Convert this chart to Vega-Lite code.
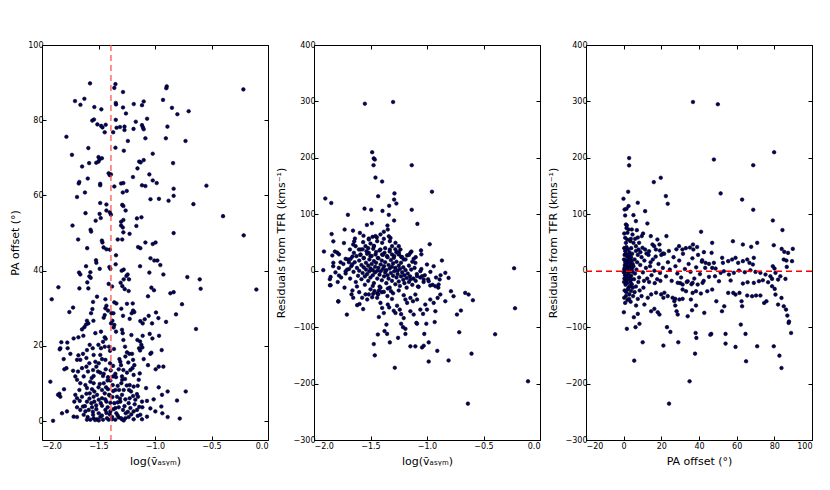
{
"$schema": "https://vega.github.io/schema/vega-lite/v6.json",
"padding": {"left": 9, "top": 40, "right": 5, "bottom": 5},
"bounds": "flush",
"spacing": 46,
"config": {
  "font": "DejaVu Sans",
  "view": {"stroke": "black", "strokeWidth": 1},
  "axis": {"domain": false, "grid": false, "tickColor": "black", "tickSize": -4, "labelFontSize": 8, "labelColor": "black", "labelPadding": 3, "titleFontSize": 11, "titleFontWeight": "normal", "titleColor": "black", "labelFont": "DejaVu Sans", "titleFont": "DejaVu Sans"},
  "axisX": {"labelPadding": 6, "titlePadding": 5},
  "axisY": {"titlePadding": 7}
},
"datasets": {
"p1": [
{"logv":-1.575,"pa":89.8},{"logv":-1.35,"pa":89.6},{"logv":-1.36,"pa":88.6},{"logv":-1.283,"pa":87.5},{"logv":-0.896,"pa":89.0},{"logv":-0.9,"pa":88.5},{"logv":-0.218,"pa":88.2},{"logv":-1.708,"pa":85.1},{"logv":-1.625,"pa":85.7},{"logv":-1.66,"pa":84.1},{"logv":-1.347,"pa":84.6},{"logv":-1.345,"pa":84.2},{"logv":-1.188,"pa":84.3},{"logv":-1.1,"pa":85.0},{"logv":-1.115,"pa":84.0},{"logv":-0.929,"pa":85.4},{"logv":-0.85,"pa":83.3},{"logv":-0.702,"pa":82.4},{"logv":-0.802,"pa":81.6},{"logv":-1.537,"pa":83.5},{"logv":-1.475,"pa":82.9},{"logv":-1.283,"pa":83.4},{"logv":-1.257,"pa":81.8},{"logv":-1.54,"pa":80.2},{"logv":-1.555,"pa":79.9},{"logv":-1.51,"pa":78.9},{"logv":-1.477,"pa":78.5},{"logv":-1.465,"pa":78.1},{"logv":-1.436,"pa":78.8},{"logv":-1.347,"pa":80.1},{"logv":-1.445,"pa":76.8},{"logv":-1.37,"pa":76.8},{"logv":-1.34,"pa":78.0},{"logv":-1.31,"pa":78.2},{"logv":-1.27,"pa":78.3},{"logv":-1.27,"pa":77.4},{"logv":-1.19,"pa":77.7},{"logv":-1.17,"pa":79.6},{"logv":-1.115,"pa":78.7},{"logv":-1.107,"pa":78.1},{"logv":-1.1,"pa":77.6},{"logv":-1.07,"pa":80.4},{"logv":-0.89,"pa":78.3},{"logv":-1.784,"pa":75.6},{"logv":-1.24,"pa":74.5},{"logv":-1.085,"pa":75.2},{"logv":-0.904,"pa":75.2},{"logv":-0.73,"pa":74.5},{"logv":-1.59,"pa":72.6},{"logv":-1.735,"pa":70.8},{"logv":-1.5,"pa":70.2},{"logv":-1.49,"pa":69.6},{"logv":-1.276,"pa":71.9},{"logv":-1.35,"pa":72.7},{"logv":-1.645,"pa":67.7},{"logv":-1.583,"pa":68.6},{"logv":-1.52,"pa":68.7},{"logv":-1.5,"pa":69.0},{"logv":-1.47,"pa":69.9},{"logv":-1.14,"pa":69.0},{"logv":-1.127,"pa":68.8},{"logv":-1.1,"pa":69.4},{"logv":-1.02,"pa":71.1},{"logv":-1.155,"pa":67.2},{"logv":-0.84,"pa":68.6},{"logv":-1.41,"pa":65.9},{"logv":-1.39,"pa":65.6},{"logv":-1.4,"pa":65.4},{"logv":-1.195,"pa":64.9},{"logv":-1.05,"pa":65.6},{"logv":-1.675,"pa":63.2},{"logv":-1.67,"pa":63.6},{"logv":-1.595,"pa":64.5},{"logv":-1.485,"pa":63.1},{"logv":-1.485,"pa":62.7},{"logv":-1.36,"pa":62.4},{"logv":-1.3,"pa":63.2},{"logv":-1.28,"pa":63.3},{"logv":-1.115,"pa":62.7},{"logv":-1.085,"pa":62.5},{"logv":-1.02,"pa":64.0},{"logv":-0.985,"pa":63.3},{"logv":-0.835,"pa":61.8},{"logv":-0.545,"pa":62.6},{"logv":-1.62,"pa":60.8},{"logv":-1.69,"pa":59.6},{"logv":-1.285,"pa":60.8},{"logv":-1.25,"pa":61.2},{"logv":-1.04,"pa":59.0},{"logv":-0.965,"pa":59.1},{"logv":-0.88,"pa":58.6},{"logv":-0.835,"pa":59.9},{"logv":-0.66,"pa":57.7},{"logv":-1.485,"pa":58.0},{"logv":-1.43,"pa":57.6},{"logv":-1.29,"pa":57.5},{"logv":-1.28,"pa":57.2},{"logv":-1.43,"pa":56.0},{"logv":-1.4,"pa":55.5},{"logv":-1.26,"pa":56.0},{"logv":-1.615,"pa":55.3},{"logv":-1.49,"pa":55.1},{"logv":-1.48,"pa":54.0},{"logv":-1.39,"pa":54.9},{"logv":-1.525,"pa":53.3},{"logv":-1.16,"pa":53.9},{"logv":-1.12,"pa":54.2},{"logv":-1.3,"pa":53.0},{"logv":-1.28,"pa":53.5},{"logv":-1.3,"pa":52.0},{"logv":-1.285,"pa":51.5},{"logv":-0.398,"pa":54.5},{"logv":-1.73,"pa":52.0},{"logv":-1.57,"pa":50.9},{"logv":-1.565,"pa":50.4},{"logv":-1.165,"pa":51.9},{"logv":-1.28,"pa":50.2},{"logv":-1.225,"pa":49.8},{"logv":-0.835,"pa":50.0},{"logv":-0.215,"pa":49.4},{"logv":-1.68,"pa":48.3},{"logv":-1.47,"pa":48.0},{"logv":-1.465,"pa":47.5},{"logv":-1.33,"pa":48.3},{"logv":-1.29,"pa":48.3},{"logv":-1.15,"pa":46.3},{"logv":-1.13,"pa":46.0},{"logv":-1.085,"pa":47.5},{"logv":-1.02,"pa":47.1},{"logv":-0.995,"pa":47.5},{"logv":-1.6,"pa":46.0},{"logv":-1.455,"pa":46.2},{"logv":-1.43,"pa":45.7},{"logv":-1.4,"pa":45.6},{"logv":-1.345,"pa":44.1},{"logv":-1.04,"pa":43.3},
{"logv":-1.006,"pa":42.7},{"logv":-0.979,"pa":42.7},{"logv":-1.522,"pa":42.8},{"logv":-1.519,"pa":42.1},{"logv":-0.953,"pa":41.5},{"logv":-1.61,"pa":41.2},{"logv":-1.489,"pa":40.5},{"logv":-1.404,"pa":41.0},{"logv":-1.395,"pa":40.5},{"logv":-1.348,"pa":41.7},{"logv":-1.277,"pa":40.3},{"logv":-1.295,"pa":40.0},{"logv":-1.132,"pa":41.2},{"logv":-1.672,"pa":39.5},{"logv":-1.661,"pa":39.0},{"logv":-1.572,"pa":39.6},{"logv":-1.581,"pa":38.5},{"logv":-1.242,"pa":39.0},{"logv":-1.253,"pa":38.6},{"logv":-1.277,"pa":37.7},{"logv":-1.23,"pa":37.7},{"logv":-1.599,"pa":36.9},{"logv":-1.569,"pa":38.1},{"logv":-1.05,"pa":39.5},{"logv":-0.926,"pa":39.0},{"logv":-0.714,"pa":38.3},{"logv":-1.41,"pa":36.5},{"logv":-1.38,"pa":35.8},{"logv":-1.304,"pa":36.8},{"logv":-1.289,"pa":35.9},{"logv":-1.268,"pa":35.1},{"logv":-1.233,"pa":34.6},{"logv":-1.669,"pa":35.3},{"logv":-1.59,"pa":35.3},{"logv":-1.855,"pa":35.6},{"logv":-1.032,"pa":35.5},{"logv":-1.009,"pa":34.8},{"logv":-1.914,"pa":32.4},{"logv":-1.513,"pa":33.1},{"logv":-1.439,"pa":32.4},{"logv":-1.43,"pa":30.7},{"logv":-1.548,"pa":31.7},{"logv":-1.36,"pa":31.6},{"logv":-1.342,"pa":31.3},{"logv":-1.248,"pa":31.2},{"logv":-1.197,"pa":31.3},{"logv":-1.062,"pa":33.2},{"logv":-0.864,"pa":34.0},{"logv":-0.835,"pa":34.3},{"logv":-0.761,"pa":31.1},{"logv":-1.725,"pa":30.2},{"logv":-1.758,"pa":29.0},{"logv":-1.554,"pa":29.8},{"logv":-1.566,"pa":28.7},{"logv":-1.439,"pa":30.0},{"logv":-1.416,"pa":29.4},{"logv":-1.386,"pa":28.7},{"logv":-1.368,"pa":28.7},{"logv":-1.445,"pa":28.2},{"logv":-1.298,"pa":29.9},{"logv":-1.283,"pa":28.0},{"logv":-1.194,"pa":29.4},{"logv":-1.183,"pa":29.0},{"logv":-1.206,"pa":28.7},{"logv":-1.056,"pa":28.0},{"logv":-0.991,"pa":28.9},{"logv":-0.814,"pa":28.4},{"logv":-1.602,"pa":26.7},{"logv":-1.59,"pa":26.0},{"logv":-1.61,"pa":25.7},{"logv":-1.545,"pa":26.7},{"logv":-1.454,"pa":27.5},{"logv":-1.377,"pa":26.7},{"logv":-1.389,"pa":26.0},{"logv":-1.36,"pa":25.6},{"logv":-1.366,"pa":24.9},{"logv":-1.292,"pa":24.3},{"logv":-1.224,"pa":27.2},{"logv":-1.13,"pa":26.6},{"logv":-1.091,"pa":27.1},{"logv":-1.109,"pa":26.0},{"logv":-0.97,"pa":27.4},{"logv":-1.026,"pa":26.0},{"logv":-0.902,"pa":26.4},{"logv":-1.646,"pa":24.4},{"logv":-1.625,"pa":25.0},
{"logv":-0.637,"pa":24.5},{"logv":-0.604,"pa":37.7},{"logv":-0.596,"pa":35.2},{"logv":-0.103,"pa":35.0},
{"logv":-1.634,"pa":22.7},{"logv":-1.678,"pa":22.3},{"logv":-1.72,"pa":22.0},{"logv":-1.528,"pa":23.4},{"logv":-1.478,"pa":23.8},{"logv":-1.445,"pa":22.3},{"logv":-1.436,"pa":21.9},{"logv":-1.46,"pa":21.1},{"logv":-1.345,"pa":23.8},{"logv":-1.286,"pa":23.4},{"logv":-1.28,"pa":21.6},{"logv":-1.209,"pa":22.9},{"logv":-1.109,"pa":22.7},{"logv":-1.156,"pa":21.6},{"logv":-1.132,"pa":21.2},{"logv":-1.121,"pa":20.3},{"logv":-1.047,"pa":23.2},{"logv":-1.023,"pa":22.0},{"logv":-0.964,"pa":22.7},
{"logv":-1.829,"pa":21.0},{"logv":-1.776,"pa":20.9},{"logv":-1.838,"pa":19.4},{"logv":-1.843,"pa":19.1},{"logv":-1.773,"pa":19.4},{"logv":-1.578,"pa":20.3},{"logv":-1.551,"pa":19.4},{"logv":-1.602,"pa":18.9},{"logv":-1.501,"pa":20.3},{"logv":-1.478,"pa":19.4},{"logv":-1.445,"pa":19.8},{"logv":-1.407,"pa":19.8},{"logv":-1.398,"pa":18.7},{"logv":-1.363,"pa":19.2},{"logv":-1.265,"pa":19.8},{"logv":-1.248,"pa":18.3},{"logv":-1.227,"pa":17.9},{"logv":-1.203,"pa":17.9},{"logv":-1.141,"pa":19.4},{"logv":-1.112,"pa":19.6},{"logv":-1.132,"pa":18.8},{"logv":-1.041,"pa":17.9},{"logv":-1.032,"pa":18.2},{"logv":-0.941,"pa":18.9},
{"logv":-1.749,"pa":17.9},{"logv":-1.678,"pa":17.5},{"logv":-1.637,"pa":17.9},{"logv":-1.543,"pa":17.6},{"logv":-1.484,"pa":17.6},{"logv":-1.469,"pa":16.5},{"logv":-1.607,"pa":16.8},{"logv":-1.661,"pa":16.3},{"logv":-1.808,"pa":16.5},{"logv":-1.69,"pa":16.3},{"logv":-1.581,"pa":15.4},{"logv":-1.528,"pa":15.8},{"logv":-1.498,"pa":15.4},{"logv":-1.439,"pa":16.3},{"logv":-1.398,"pa":15.4},{"logv":-1.315,"pa":16.5},{"logv":-1.307,"pa":15.8},{"logv":-1.301,"pa":14.9},{"logv":-1.262,"pa":17.2},{"logv":-1.194,"pa":16.3},{"logv":-1.183,"pa":14.9},{"logv":-1.236,"pa":15.6},{"logv":-1.1,"pa":16.5},{"logv":-1.062,"pa":14.9},{"logv":-0.967,"pa":14.5},{"logv":-0.926,"pa":14.5},{"logv":-0.994,"pa":13.8},
{"logv":-1.802,"pa":13.8},{"logv":-1.784,"pa":14.1},{"logv":-1.725,"pa":13.4},{"logv":-1.681,"pa":13.2},{"logv":-1.646,"pa":14.1},{"logv":-1.607,"pa":14.5},{"logv":-1.593,"pa":13.2},{"logv":-1.548,"pa":13.6},{"logv":-1.519,"pa":14.5},{"logv":-1.504,"pa":13.2},{"logv":-1.484,"pa":12.9},{"logv":-1.454,"pa":12.6},{"logv":-1.436,"pa":13.8},{"logv":-1.392,"pa":13.5},{"logv":-1.371,"pa":14.7},{"logv":-1.351,"pa":12.6},{"logv":-1.321,"pa":13.8},{"logv":-1.28,"pa":13.6},{"logv":-1.248,"pa":12.9},{"logv":-1.218,"pa":13.6},{"logv":-1.2,"pa":14.1},{"logv":-1.135,"pa":12.7},{"logv":-1.189,"pa":12.3},{"logv":-1.631,"pa":11.9},{"logv":-1.705,"pa":11.9},{"logv":-1.543,"pa":12.0},{"logv":-1.416,"pa":11.7},{"logv":-1.371,"pa":11.9},{"logv":-1.345,"pa":11.7},{"logv":-1.292,"pa":11.9},{"logv":-1.265,"pa":11.2},
{"logv":-1.926,"pa":10.5},{"logv":-1.805,"pa":8.5},{"logv":-1.69,"pa":11.0},{"logv":-1.661,"pa":10.1},{"logv":-1.616,"pa":9.6},{"logv":-1.572,"pa":10.5},{"logv":-1.543,"pa":10.1},{"logv":-1.489,"pa":9.9},{"logv":-1.454,"pa":10.1},{"logv":-1.433,"pa":9.0},{"logv":-1.395,"pa":10.8},{"logv":-1.374,"pa":9.6},{"logv":-1.33,"pa":9.4},{"logv":-1.298,"pa":10.1},{"logv":-1.277,"pa":8.3},{"logv":-1.224,"pa":9.6},{"logv":-1.189,"pa":9.2},{"logv":-1.153,"pa":9.4},{"logv":-1.144,"pa":11.0},{"logv":-1.669,"pa":8.3},{"logv":-1.602,"pa":8.8},{"logv":-1.557,"pa":8.5},{"logv":-1.537,"pa":7.9},{"logv":-1.469,"pa":8.3},{"logv":-1.416,"pa":8.5},{"logv":-1.351,"pa":8.3},{"logv":-1.318,"pa":8.3},{"logv":-1.23,"pa":8.3},{"logv":-1.212,"pa":7.9},{"logv":-1.079,"pa":8.8},{"logv":-0.967,"pa":9.0},{"logv":-0.888,"pa":7.9},{"logv":-0.728,"pa":7.9},{"logv":-0.938,"pa":7.0},
{"logv":-1.846,"pa":7.3},{"logv":-1.838,"pa":6.5},{"logv":-1.858,"pa":7.0},{"logv":-1.705,"pa":7.0},{"logv":-1.69,"pa":6.1},{"logv":-1.666,"pa":5.4},{"logv":-1.646,"pa":6.5},{"logv":-1.607,"pa":7.3},{"logv":-1.578,"pa":7.4},{"logv":-1.543,"pa":6.5},{"logv":-1.513,"pa":7.0},{"logv":-1.498,"pa":5.7},{"logv":-1.469,"pa":6.1},{"logv":-1.445,"pa":7.4},{"logv":-1.407,"pa":7.0},{"logv":-1.377,"pa":6.4},{"logv":-1.336,"pa":6.5},{"logv":-1.292,"pa":7.0},{"logv":-1.262,"pa":5.8},{"logv":-1.224,"pa":6.1},{"logv":-1.194,"pa":6.7},{"logv":-1.174,"pa":5.7},{"logv":-1.15,"pa":6.5},{"logv":-1.115,"pa":5.2},{"logv":-1.071,"pa":5.4},{"logv":-1.012,"pa":5.8},{"logv":-0.944,"pa":3.9},{"logv":-0.805,"pa":5.5},{"logv":-1.714,"pa":5.2},{"logv":-1.602,"pa":5.2},{"logv":-1.563,"pa":4.8},{"logv":-1.537,"pa":5.2},{"logv":-1.43,"pa":5.2},{"logv":-1.395,"pa":4.9},{"logv":-1.36,"pa":4.8},{"logv":-1.307,"pa":5.2},{"logv":-1.233,"pa":4.8},
{"logv":-1.69,"pa":3.7},{"logv":-1.661,"pa":3.0},{"logv":-1.637,"pa":3.9},{"logv":-1.616,"pa":2.6},{"logv":-1.587,"pa":3.0},{"logv":-1.557,"pa":3.7},{"logv":-1.519,"pa":3.2},{"logv":-1.498,"pa":2.1},{"logv":-1.469,"pa":4.1},{"logv":-1.439,"pa":3.0},{"logv":-1.419,"pa":3.7},{"logv":-1.395,"pa":2.6},{"logv":-1.366,"pa":3.2},{"logv":-1.342,"pa":2.1},{"logv":-1.321,"pa":3.7},{"logv":-1.283,"pa":3.0},{"logv":-1.259,"pa":2.1},{"logv":-1.218,"pa":3.5},{"logv":-1.189,"pa":2.6},{"logv":-1.159,"pa":3.0},{"logv":-1.13,"pa":1.7},{"logv":-1.112,"pa":3.7},{"logv":-1.041,"pa":3.4},{"logv":-0.997,"pa":2.6},{"logv":-0.935,"pa":2.1},{"logv":-1.631,"pa":1.7},{"logv":-1.548,"pa":1.7},{"logv":-1.779,"pa":2.6},{"logv":-1.823,"pa":2.1},
{"logv":-1.902,"pa":0.1},{"logv":-1.72,"pa":1.2},{"logv":-1.69,"pa":1.1},{"logv":-1.596,"pa":1.1},{"logv":-1.572,"pa":0.4},{"logv":-1.543,"pa":0.8},{"logv":-1.513,"pa":0.5},{"logv":-1.484,"pa":1.1},{"logv":-1.46,"pa":0.4},{"logv":-1.425,"pa":0.8},{"logv":-1.41,"pa":0.4},{"logv":-1.38,"pa":1.1},{"logv":-1.351,"pa":0.4},{"logv":-1.321,"pa":1.0},{"logv":-1.292,"pa":0.5},{"logv":-1.262,"pa":0.8},{"logv":-1.233,"pa":1.1},{"logv":-1.189,"pa":0.5},{"logv":-1.153,"pa":1.4},{"logv":-1.115,"pa":0.5},{"logv":-1.071,"pa":1.2},{"logv":-0.888,"pa":1.1},{"logv":-0.781,"pa":0.7},{"logv":-1.602,"pa":0.4},{"logv":-1.498,"pa":0.2},{"logv":-1.277,"pa":0.2},
{"logv":-1.55,"pa":2.5},{"logv":-1.52,"pa":4.2},{"logv":-1.47,"pa":1.5},{"logv":-1.44,"pa":5.8},{"logv":-1.4,"pa":1.8},{"logv":-1.37,"pa":8.0},{"logv":-1.33,"pa":1.5},{"logv":-1.31,"pa":6.0},{"logv":-1.27,"pa":4.0},{"logv":-1.25,"pa":9.5},{"logv":-1.21,"pa":1.8},{"logv":-1.18,"pa":4.5},{"logv":-1.16,"pa":7.2},{"logv":-1.14,"pa":3.8},{"logv":-1.42,"pa":10.8},{"logv":-1.48,"pa":4.8},{"logv":-1.58,"pa":6.0},{"logv":-1.62,"pa":4.0},{"logv":-1.5,"pa":9.0},{"logv":-1.35,"pa":3.5},{"logv":-1.29,"pa":11.0},{"logv":-1.46,"pa":12.0},{"logv":-1.56,"pa":11.5},{"logv":-1.4,"pa":6.8},{"logv":-1.33,"pa":5.0},{"logv":-1.24,"pa":2.5},{"logv":-1.53,"pa":0.3},{"logv":-1.43,"pa":2.2},{"logv":-1.38,"pa":0.5},{"logv":-1.3,"pa":0.8}
],
"p2": [
{"logv":-1.55,"res":296},{"logv":-1.3,"res":299},{"logv":-1.485,"res":210},{"logv":-1.471,"res":199},{"logv":-1.462,"res":197},{"logv":-1.473,"res":187},{"logv":-1.135,"res":187},{"logv":-1.456,"res":165},{"logv":-1.397,"res":158},{"logv":-1.288,"res":137},{"logv":-1.291,"res":126},{"logv":-1.271,"res":119},{"logv":-1.432,"res":132},{"logv":-0.956,"res":140},{"logv":-1.9,"res":128},{"logv":-1.847,"res":120},{"logv":-1.553,"res":110},{"logv":-1.494,"res":108},{"logv":-1.135,"res":108},{"logv":-1.335,"res":115},{"logv":-1.394,"res":106},{"logv":-1.338,"res":99},{"logv":-1.7,"res":99},{"logv":-1.291,"res":89},{"logv":-1.085,"res":83},{"logv":-1.532,"res":81},{"logv":-1.488,"res":84},{"logv":-1.844,"res":65},{"logv":-1.829,"res":52},{"logv":-1.729,"res":73},{"logv":-1.655,"res":71},{"logv":-1.594,"res":67},{"logv":-1.638,"res":57},{"logv":-1.644,"res":52},{"logv":-1.562,"res":62},{"logv":-1.515,"res":57},{"logv":-1.482,"res":60},{"logv":-1.444,"res":59},{"logv":-1.382,"res":69},{"logv":-1.347,"res":73},{"logv":-1.35,"res":80},{"logv":-1.338,"res":61},{"logv":-1.323,"res":58},{"logv":-1.735,"res":49},{"logv":-0.976,"res":47},{"logv":-1.912,"res":34},{"logv":-1.815,"res":34},{"logv":-1.053,"res":36},{"logv":-1.138,"res":34},{"logv":-1.25,"res":33},
{"logv":-1.647,"res":31.7},{"logv":-1.624,"res":25.8},{"logv":-1.603,"res":37.6},{"logv":-1.588,"res":28.7},{"logv":-1.559,"res":22.8},{"logv":-1.535,"res":34.6},{"logv":-1.515,"res":31.7},{"logv":-1.5,"res":25.8},{"logv":-1.476,"res":38.8},{"logv":-1.456,"res":28.7},{"logv":-1.435,"res":22.8},{"logv":-1.412,"res":37.6},{"logv":-1.397,"res":28.7},{"logv":-1.376,"res":31.7},{"logv":-1.353,"res":25.8},{"logv":-1.329,"res":37.6},{"logv":-1.309,"res":28.7},{"logv":-1.294,"res":22.8},{"logv":-1.271,"res":32.9},{"logv":-1.25,"res":28.7},{"logv":-1.229,"res":24.6},{"logv":-1.206,"res":19.9},{"logv":-1.176,"res":27.2},{"logv":-1.147,"res":31.7},
{"logv":-1.682,"res":37.6},{"logv":-1.653,"res":46.5},{"logv":-1.632,"res":43.5},{"logv":-1.565,"res":50.6},{"logv":-1.544,"res":43.5},{"logv":-1.515,"res":55.3},{"logv":-1.5,"res":48.2},{"logv":-1.456,"res":61.3},{"logv":-1.441,"res":52.4},{"logv":-1.412,"res":64.2},{"logv":-1.397,"res":49.4},{"logv":-1.382,"res":56.5},{"logv":-1.329,"res":52.4},{"logv":-1.309,"res":43.5},{"logv":-1.279,"res":49.4},{"logv":-1.25,"res":43.5},{"logv":-1.47,"res":43.5},{"logv":-1.588,"res":37.6},{"logv":-1.235,"res":37.6},{"logv":-1.05,"res":29},
{"logv":-1.74,"res":12},{"logv":-1.72,"res":-5},{"logv":-1.7,"res":20},{"logv":-1.69,"res":3},{"logv":-1.68,"res":-14},{"logv":-1.67,"res":8},{"logv":-1.66,"res":25},{"logv":-1.65,"res":-2},{"logv":-1.64,"res":15},{"logv":-1.63,"res":-20},{"logv":-1.62,"res":5},{"logv":-1.61,"res":-9},{"logv":-1.6,"res":18},{"logv":-1.6,"res":0},{"logv":-1.59,"res":28},{"logv":-1.58,"res":-15},{"logv":-1.58,"res":10},{"logv":-1.57,"res":-4},{"logv":-1.56,"res":22},{"logv":-1.56,"res":6},{"logv":-1.55,"res":-25},{"logv":-1.55,"res":-10},{"logv":-1.54,"res":14},{"logv":-1.54,"res":2},{"logv":-1.53,"res":30},{"logv":-1.53,"res":-6},{"logv":-1.52,"res":9},{"logv":-1.52,"res":-18},{"logv":-1.51,"res":20},{"logv":-1.51,"res":-1},{"logv":-1.5,"res":4},{"logv":-1.5,"res":-12},{"logv":-1.49,"res":26},{"logv":-1.49,"res":12},{"logv":-1.48,"res":-8},{"logv":-1.48,"res":1},{"logv":-1.47,"res":17},{"logv":-1.47,"res":-22},{"logv":-1.46,"res":7},{"logv":-1.46,"res":-3},{"logv":-1.45,"res":33},{"logv":-1.45,"res":14},{"logv":-1.44,"res":-14},{"logv":-1.44,"res":0},{"logv":-1.43,"res":22},{"logv":-1.43,"res":5},{"logv":-1.42,"res":-7},{"logv":-1.42,"res":-28},{"logv":-1.41,"res":11},{"logv":-1.41,"res":-1},{"logv":-1.4,"res":18},{"logv":-1.4,"res":-17},{"logv":-1.39,"res":3},{"logv":-1.39,"res":28},{"logv":-1.38,"res":-10},{"logv":-1.38,"res":8},{"logv":-1.37,"res":-3},{"logv":-1.37,"res":15},{"logv":-1.36,"res":-22},{"logv":-1.36,"res":1},{"logv":-1.35,"res":24},{"logv":-1.35,"res":-8},{"logv":-1.34,"res":10},{"logv":-1.34,"res":-14},{"logv":-1.33,"res":4},{"logv":-1.33,"res":-30},{"logv":-1.32,"res":19},{"logv":-1.32,"res":-4},{"logv":-1.31,"res":-18},{"logv":-1.31,"res":7},{"logv":-1.3,"res":13},{"logv":-1.3,"res":-9},{"logv":-1.29,"res":-1},{"logv":-1.29,"res":26},{"logv":-1.28,"res":-24},{"logv":-1.28,"res":5},{"logv":-1.27,"res":-12},{"logv":-1.27,"res":16},{"logv":-1.26,"res":0},{"logv":-1.26,"res":-6},{"logv":-1.25,"res":9},{"logv":-1.25,"res":-19},{"logv":-1.24,"res":-27},{"logv":-1.24,"res":3},{"logv":-1.23,"res":-10},{"logv":-1.23,"res":14},{"logv":-1.22,"res":-3},{"logv":-1.21,"res":-16},{"logv":-1.21,"res":6},{"logv":-1.2,"res":-22},{"logv":-1.2,"res":-8},{"logv":-1.19,"res":1},{"logv":-1.18,"res":-13},{"logv":-1.18,"res":-30},{"logv":-1.17,"res":-5},{"logv":-1.16,"res":9},{"logv":-1.16,"res":-20},{"logv":-1.15,"res":-10},{"logv":-1.14,"res":2},{"logv":-1.13,"res":-25},{"logv":-1.12,"res":-14},{"logv":-1.11,"res":5},{"logv":-1.1,"res":-18},{"logv":-1.09,"res":-6},{"logv":-1.08,"res":-28},{"logv":-1.06,"res":-12},{"logv":-1.05,"res":3},{"logv":-1.03,"res":-20},{"logv":-1.02,"res":-8},{"logv":-0.99,"res":-15},{"logv":-0.97,"res":-2},{"logv":-0.95,"res":-25},{"logv":-0.92,"res":-12},{"logv":-0.9,"res":-30},{"logv":-0.88,"res":-8},{"logv":-1.76,"res":-12},{"logv":-1.78,"res":5},{"logv":-1.81,"res":-3},{"logv":-1.83,"res":8},{"logv":-1.86,"res":-15},{"logv":-1.79,"res":-20},{"logv":-1.73,"res":-30},{"logv":-1.66,"res":-35},{"logv":-1.62,"res":-28},{"logv":-1.57,"res":38},{"logv":-1.52,"res":40},{"logv":-1.47,"res":44},{"logv":-1.42,"res":36},{"logv":-1.37,"res":40},{"logv":-1.33,"res":34},{"logv":-1.28,"res":38},{"logv":-1.25,"res":30},{"logv":-1.22,"res":24},{"logv":-1.19,"res":20},{"logv":-1.16,"res":28},{"logv":-1.13,"res":16},{"logv":-1.1,"res":24},{"logv":-1.6,"res":-38},{"logv":-1.5,"res":-33},{"logv":-1.4,"res":-38},{"logv":-1.3,"res":-40},{"logv":-1.25,"res":-35},{"logv":-1.48,"res":-27},{"logv":-1.44,"res":-40},{"logv":-1.35,"res":-45},{"logv":-1.31,"res":-50},
{"logv":-1.118,"res":21},{"logv":-1.103,"res":13.9},{"logv":-1.059,"res":-0.8},{"logv":-1.044,"res":-9.7},{"logv":-1.029,"res":-15.6},{"logv":-0.985,"res":-18.6},{"logv":-0.971,"res":-26.3},{"logv":-0.926,"res":-27.5},{"logv":-0.888,"res":-15.6},{"logv":-0.868,"res":18.1},{"logv":-0.941,"res":8},{"logv":-1.0,"res":11},{"logv":-1.088,"res":-9.7},{"logv":-0.838,"res":-3.8},{"logv":-0.809,"res":-12.7},{"logv":-0.897,"res":-24.5},{"logv":-1.147,"res":-15.6},{"logv":-1.074,"res":-28.6},
{"logv":-1.838,"res":27},{"logv":-1.794,"res":32},{"logv":-1.779,"res":29},{"logv":-1.829,"res":14},{"logv":-1.765,"res":15},{"logv":-1.918,"res":1},{"logv":-1.72,"res":21},{"logv":-1.691,"res":15},{"logv":-1.676,"res":21},{"logv":-1.662,"res":11},{"logv":-1.853,"res":-11},{"logv":-1.779,"res":-8.5},{"logv":-1.72,"res":-1},{"logv":-1.706,"res":2},{"logv":-1.859,"res":-25.7},{"logv":-1.785,"res":-54.7},{"logv":-1.709,"res":-77.8},
{"logv":-1.853,"res":-25.7},{"logv":-1.785,"res":-54},{"logv":-1.668,"res":-42},{"logv":-1.653,"res":-48},{"logv":-1.618,"res":-61},{"logv":-1.597,"res":-59},{"logv":-1.565,"res":-68},{"logv":-1.574,"res":-48},{"logv":-1.544,"res":-42},{"logv":-1.529,"res":-51},{"logv":-1.515,"res":-42},{"logv":-1.485,"res":-47},{"logv":-1.476,"res":-41},{"logv":-1.441,"res":-48},{"logv":-1.432,"res":-42},{"logv":-1.465,"res":-36},{"logv":-1.426,"res":-35},{"logv":-1.412,"res":-30},{"logv":-1.382,"res":-37.5},{"logv":-1.347,"res":-31.6},{"logv":-1.318,"res":-36.3},{"logv":-1.412,"res":-57},{"logv":-1.397,"res":-66},{"logv":-1.382,"res":-75},{"logv":-1.426,"res":-82},{"logv":-1.347,"res":-60},{"logv":-1.335,"res":-65},{"logv":-1.294,"res":-71},{"logv":-1.279,"res":-75},{"logv":-1.265,"res":-62},{"logv":-1.241,"res":-69},{"logv":-1.229,"res":-77},{"logv":-1.206,"res":-84},{"logv":-1.359,"res":-95.5},{"logv":-1.376,"res":-107},{"logv":-1.353,"res":-112},{"logv":-1.229,"res":-94},{"logv":-1.212,"res":-100},{"logv":-1.191,"res":-103},{"logv":-1.191,"res":-112},{"logv":-1.435,"res":-113},{"logv":-1.471,"res":-130},{"logv":-1.329,"res":-127},{"logv":-1.256,"res":-119},{"logv":-1.462,"res":-150},{"logv":-1.285,"res":-172},{"logv":-1.147,"res":-134},{"logv":-1.103,"res":-134},{"logv":-1.044,"res":-136},{"logv":-1.029,"res":-133},{"logv":-0.985,"res":-127},{"logv":-1.024,"res":-112},{"logv":-1.094,"res":-92.5},{"logv":-1.088,"res":-94},{"logv":-1.006,"res":-94},{"logv":-0.932,"res":-91},{"logv":-0.909,"res":-142},{"logv":-0.985,"res":-161},{"logv":-0.809,"res":-159},{"logv":-0.715,"res":-109},{"logv":-0.606,"res":-147},{"logv":-1.206,"res":-43.4},{"logv":-1.191,"res":-51.1},{"logv":-1.176,"res":-57},{"logv":-1.147,"res":-48.2},{"logv":-1.124,"res":-54.1},{"logv":-1.103,"res":-42.2},{"logv":-1.088,"res":-51.1},{"logv":-1.147,"res":-71.8},{"logv":-1.118,"res":-77.7},{"logv":-1.059,"res":-68.9},{"logv":-1.035,"res":-76.5},{"logv":-1.015,"res":-60},{"logv":-1.0,"res":-68.9},{"logv":-0.971,"res":-51.1},{"logv":-0.941,"res":-57},{"logv":-0.926,"res":-71.8},{"logv":-0.906,"res":-48.2},{"logv":-0.882,"res":-42.2},{"logv":-0.838,"res":-54.1},{"logv":-0.788,"res":-36.3},{"logv":-0.765,"res":-45.2},{"logv":-0.735,"res":-77.7},{"logv":-0.7,"res":-70.6},{"logv":-0.662,"res":-39.3},{"logv":-0.632,"res":-42.2},{"logv":-0.594,"res":-52.3},
{"logv":-0.229,"res":4.4},{"logv":-0.221,"res":-66.5},{"logv":-0.106,"res":-196},{"logv":-0.638,"res":-235.6},{"logv":-0.397,"res":-112.6}
],
"p3": [
{"pa":2.9,"res":199.6},{"pa":2.9,"res":186.6},{"pa":2.4,"res":139.9},{"pa":-0.1,"res":127.5},{"pa":0.5,"res":108.6},{"pa":1.5,"res":109.8},{"pa":2.6,"res":114.5},{"pa":5.2,"res":98.5},{"pa":7.5,"res":120.4},{"pa":11.4,"res":105.6},{"pa":0.8,"res":97.9},{"pa":1.2,"res":82},{"pa":1.7,"res":80.2},{"pa":6.5,"res":87.9},{"pa":4.3,"res":73.1},{"pa":7.0,"res":71.9},{"pa":12.6,"res":83.7},{"pa":16.0,"res":157},{"pa":19.7,"res":164.7},{"pa":22.4,"res":132.2},{"pa":23.4,"res":118.6},{"pa":1.9,"res":55.3},{"pa":3.5,"res":52.4},{"pa":6.1,"res":56.5},{"pa":7.5,"res":58.9},{"pa":8.2,"res":49.4},{"pa":4.7,"res":64.2},{"pa":9.6,"res":61.3},{"pa":10.3,"res":66},{"pa":14.4,"res":61.3},{"pa":15.3,"res":46.5},{"pa":17.9,"res":55.3},{"pa":19.0,"res":46.5},{"pa":22.7,"res":61.3},{"pa":0.3,"res":66},{"pa":0.8,"res":58.3},{"pa":1.2,"res":49.4},{"pa":36.8,"res":299},{"pa":41.1,"res":69},{"pa":36.8,"res":46.5},{"pa":29.4,"res":43.5},{"pa":31.2,"res":37.6},{"pa":35.2,"res":41.1},{"pa":37.0,"res":37.6},{"pa":42.6,"res":32.9},
{"pa":1.5,"res":75.5},{"pa":2.0,"res":67.2},{"pa":2.6,"res":73.1},{"pa":3.8,"res":56.5},{"pa":5.2,"res":49.4},{"pa":6.5,"res":43.5},{"pa":7.9,"res":37.6},{"pa":8.9,"res":32.9},{"pa":10.0,"res":40.6},{"pa":11.4,"res":37.6},{"pa":12.1,"res":30.5},{"pa":13.5,"res":34.6},{"pa":16.2,"res":43.5},{"pa":17.1,"res":37.6},{"pa":20.9,"res":30.5},{"pa":19.2,"res":35.8},
{"pa":50.0,"res":295},{"pa":47.9,"res":197},{"pa":68.8,"res":187},{"pa":79.9,"res":210},{"pa":51.5,"res":137},{"pa":62.9,"res":126},{"pa":68.8,"res":108},{"pa":79.2,"res":89},{"pa":84.3,"res":72},{"pa":67.7,"res":42.3},{"pa":46.7,"res":31.7},{"pa":52.3,"res":22.8},{"pa":59.4,"res":22.8},
{"pa":0.3,"res":40},{"pa":0.8,"res":35},{"pa":1.5,"res":42},{"pa":2.2,"res":38},{"pa":3.0,"res":33},{"pa":4.0,"res":40},{"pa":0.5,"res":28},{"pa":1.2,"res":30},{"pa":2.0,"res":25},{"pa":2.8,"res":28},{"pa":3.5,"res":22},{"pa":4.5,"res":30},{"pa":0.2,"res":20},{"pa":1.0,"res":18},{"pa":1.8,"res":15},{"pa":2.5,"res":20},{"pa":3.2,"res":12},{"pa":4.2,"res":17},{"pa":0.6,"res":10},{"pa":1.4,"res":8},{"pa":2.1,"res":5},{"pa":2.9,"res":10},{"pa":3.8,"res":6},{"pa":4.8,"res":12},{"pa":0.3,"res":2},{"pa":1.1,"res":-1},{"pa":1.9,"res":3},{"pa":2.7,"res":-3},{"pa":3.5,"res":0},{"pa":4.4,"res":4},{"pa":0.7,"res":-8},{"pa":1.5,"res":-10},{"pa":2.3,"res":-6},{"pa":3.1,"res":-12},{"pa":4.0,"res":-9},{"pa":0.4,"res":-14},{"pa":1.3,"res":-18},{"pa":2.4,"res":-15},{"pa":3.6,"res":-20},{"pa":0.9,"res":15},{"pa":2.6,"res":12},{"pa":3.9,"res":24},{"pa":1.7,"res":26},{"pa":0.1,"res":-3},{"pa":4.7,"res":-2},{"pa":5.2,"res":8},{"pa":5.8,"res":20},{"pa":6.5,"res":35},{"pa":7.2,"res":15},{"pa":0.5,"res":5},{"pa":1.6,"res":1},{"pa":2.9,"res":-9},{"pa":3.3,"res":18},{"pa":4.1,"res":-15},
{"pa":6.0,"res":-5},{"pa":6.8,"res":2},{"pa":7.5,"res":28},{"pa":8.2,"res":-12},{"pa":8.8,"res":10},{"pa":9.5,"res":24},{"pa":10.2,"res":-3},{"pa":11.0,"res":18},{"pa":11.8,"res":5},{"pa":12.5,"res":-14},{"pa":13.2,"res":28},{"pa":14.0,"res":8},{"pa":14.8,"res":-8},{"pa":15.5,"res":20},{"pa":16.3,"res":0},{"pa":17.0,"res":25},{"pa":17.8,"res":-15},{"pa":18.5,"res":12},{"pa":19.3,"res":-4},{"pa":20.0,"res":28},{"pa":20.8,"res":5},{"pa":21.5,"res":30},{"pa":7.8,"res":-20},{"pa":10.8,"res":-18},{"pa":13.5,"res":-20},{"pa":16.5,"res":-22},{"pa":19.5,"res":-18},{"pa":14.3,"res":15},{"pa":5.5,"res":-15},
{"pa":22.5,"res":-10},{"pa":23.5,"res":15},{"pa":24.5,"res":2},{"pa":25.5,"res":-18},{"pa":26.5,"res":24},{"pa":27.5,"res":8},{"pa":28.5,"res":-5},{"pa":29.5,"res":18},{"pa":30.5,"res":-12},{"pa":31.5,"res":30},{"pa":32.5,"res":3},{"pa":33.5,"res":-20},{"pa":34.5,"res":12},{"pa":35.5,"res":-2},{"pa":36.5,"res":22},{"pa":37.5,"res":-14},{"pa":38.5,"res":6},{"pa":39.5,"res":28},{"pa":40.5,"res":-6},{"pa":41.5,"res":16},{"pa":42.5,"res":-18},{"pa":43.3,"res":5},{"pa":24.0,"res":35},{"pa":28.0,"res":38},{"pa":33.0,"res":40},{"pa":39.0,"res":42},{"pa":30.0,"res":-22},{"pa":36.0,"res":-24},
{"pa":0.2,"res":-20},{"pa":1.0,"res":-25},{"pa":1.8,"res":-22},{"pa":2.6,"res":-30},{"pa":3.4,"res":-27},{"pa":4.3,"res":-24},{"pa":0.5,"res":-35},{"pa":1.4,"res":-38},{"pa":2.2,"res":-33},{"pa":3.0,"res":-42},{"pa":3.9,"res":-36},{"pa":4.8,"res":-30},{"pa":0.3,"res":-48},{"pa":1.2,"res":-45},{"pa":2.0,"res":-52},{"pa":2.9,"res":-50},{"pa":3.7,"res":-55},{"pa":0.8,"res":-57},{"pa":5.0,"res":-45},{"pa":5.8,"res":-38},{"pa":6.5,"res":-28},{"pa":7.5,"res":-50},{"pa":8.5,"res":-35},{"pa":9.5,"res":-45},{"pa":10.5,"res":-30},
{"pa":0.1,"res":-73.6},{"pa":1.7,"res":-103},{"pa":6.3,"res":-100},{"pa":8.4,"res":-94},{"pa":5.4,"res":-82.4},{"pa":7.5,"res":-76.5},{"pa":10.1,"res":-126.8},{"pa":11.0,"res":-60},{"pa":6.6,"res":-61.7},{"pa":12.8,"res":-48},{"pa":14.6,"res":-42},{"pa":17.2,"res":-39},{"pa":19.9,"res":-42},{"pa":21.6,"res":-39},{"pa":14.6,"res":-71.8},{"pa":16.3,"res":-67.6},{"pa":18.1,"res":-73.6},{"pa":19.0,"res":-77.7},{"pa":21.1,"res":-48},{"pa":23.4,"res":-45},{"pa":26.0,"res":-48},{"pa":26.9,"res":-54},{"pa":27.4,"res":-61.7},{"pa":28.1,"res":-71.8},{"pa":28.7,"res":-77.7},{"pa":27.4,"res":-49.9},{"pa":29.6,"res":-51},{"pa":31.3,"res":-49.9},{"pa":35.7,"res":-51},{"pa":31.3,"res":-33.3},{"pa":33.1,"res":-36.3},{"pa":36.6,"res":-39.3},{"pa":38.4,"res":-36.3},{"pa":41.0,"res":-40.4},{"pa":34.0,"res":-80.7},{"pa":36.3,"res":-70},{"pa":38.4,"res":-61.7},{"pa":42.8,"res":-74.7},{"pa":23.0,"res":-100},{"pa":24.8,"res":-108.4},{"pa":29.0,"res":-126.8},{"pa":21.1,"res":-132.7},{"pa":28.7,"res":-21.5},{"pa":31.3,"res":-24.5},{"pa":34.0,"res":-18.6},{"pa":36.6,"res":-21.5},{"pa":39.3,"res":-24.5},{"pa":41.9,"res":-21.5},
{"pa":47.0,"res":49.4},{"pa":58.0,"res":52.3},{"pa":63.3,"res":46.4},{"pa":70.9,"res":49.4},{"pa":79.7,"res":45.2},{"pa":80.1,"res":3.9},{"pa":79.2,"res":8},{"pa":83.9,"res":38.7},{"pa":85.3,"res":33.4},{"pa":87.3,"res":31.6},{"pa":89.8,"res":38.7},{"pa":85.0,"res":19.8},{"pa":86.4,"res":18},{"pa":89.4,"res":16.9},{"pa":86.6,"res":6.8},{"pa":47.9,"res":13.9},{"pa":48.8,"res":3.9},{"pa":52.7,"res":13.9},{"pa":55.5,"res":16.9},{"pa":57.6,"res":19.8},{"pa":60.8,"res":13.9},{"pa":63.3,"res":16.9},{"pa":65.6,"res":19.8},{"pa":66.8,"res":13.9},{"pa":69.1,"res":22.8},{"pa":68.6,"res":11},{"pa":41.7,"res":18.6},{"pa":43.5,"res":13.9},{"pa":45.3,"res":12.1},{"pa":47.0,"res":5.0},
{"pa":51.5,"res":-3.8},{"pa":53.2,"res":-0.9},{"pa":55.9,"res":-6.8},{"pa":58.5,"res":-3.8},{"pa":61.2,"res":0.3},{"pa":64.3,"res":-2.7},{"pa":67.3,"res":0.9},{"pa":70.0,"res":-2.1},{"pa":72.6,"res":-3.8},{"pa":75.3,"res":-6.8},{"pa":77.9,"res":-9.8},{"pa":80.6,"res":-3.8},{"pa":83.2,"res":-9.8},
{"pa":45.3,"res":-10.9},{"pa":48.5,"res":-9.8},{"pa":50.6,"res":-18.6},{"pa":56.8,"res":-17.4},{"pa":63.3,"res":-22.8},{"pa":65.8,"res":-20.4},{"pa":69.1,"res":-21.6},{"pa":71.8,"res":-18.6},{"pa":73.9,"res":-16.9},{"pa":76.7,"res":-20.4},{"pa":78.8,"res":-14.5},{"pa":82.0,"res":-15.7},{"pa":85.9,"res":-14.5},
{"pa":44.4,"res":-36.4},{"pa":47.0,"res":-33.4},{"pa":49.2,"res":-54.1},{"pa":52.2,"res":-71.8},{"pa":53.4,"res":-63},{"pa":55.5,"res":-39.3},{"pa":58.2,"res":-39.3},{"pa":59.4,"res":-42.3},{"pa":61.5,"res":-39.3},{"pa":62.6,"res":-54.1},{"pa":62.9,"res":-63},{"pa":65.6,"res":-44},{"pa":68.2,"res":-45.2},{"pa":70.3,"res":-44},{"pa":72.6,"res":-44},{"pa":74.6,"res":-57.1},{"pa":75.8,"res":-54.1},{"pa":78.8,"res":-27.5},{"pa":80.2,"res":-32.2},{"pa":80.6,"res":-42.3},{"pa":82.0,"res":-60},{"pa":83.8,"res":-48.2},{"pa":85.0,"res":-63},{"pa":86.2,"res":-68.9},{"pa":86.9,"res":-79.5},{"pa":87.6,"res":-92.5},{"pa":87.8,"res":-90},{"pa":88.9,"res":-110.3},{"pa":82.7,"res":-150.5},{"pa":83.8,"res":-172.4},{"pa":79.7,"res":-133.9},{"pa":70.9,"res":-133.9},{"pa":65.0,"res":-160.5},{"pa":62.2,"res":-95.5},{"pa":64.7,"res":-112},{"pa":59.4,"res":-135},{"pa":54.1,"res":-129.2},{"pa":54.1,"res":-112},{"pa":46.5,"res":-112},{"pa":46.0,"res":-113.5},{"pa":38.2,"res":-110.3},{"pa":38.6,"res":-119.1},{"pa":37.9,"res":-147},{"pa":35.0,"res":-196},{"pa":24.1,"res":-235.6},{"pa":5.6,"res":-159.4}
]
},
"hconcat": [
{
  "width": 226, "height": 395,
  "data": {"name": "p1"},
  "layer": [
    {"mark": {"type": "circle", "size": 13, "fill": "#00006e", "stroke": "black", "strokeWidth": 0.6, "opacity": 1},
     "encoding": {
       "x": {"field": "logv", "type": "quantitative", "scale": {"domain": [-2, 0], "nice": false, "zero": false}, "axis": {"values": [-2, -1.5, -1, -0.5, 0], "format": ".1f", "title": "log(v̄ₐₛᵧₘ)"}},
       "y": {"field": "pa", "type": "quantitative", "scale": {"domain": [-5, 100], "nice": false, "zero": false}, "axis": {"values": [0, 20, 40, 60, 80, 100], "title": "PA offset (°)"}}
     }},
    {"mark": {"type": "point", "opacity": 0},
     "encoding": {
       "x": {"field": "logv", "type": "quantitative", "axis": {"orient": "top", "labels": false, "title": null, "values": [-2, -1.5, -1, -0.5, 0]}},
       "y": {"field": "pa", "type": "quantitative", "axis": {"orient": "right", "labels": false, "title": null, "values": [0, 20, 40, 60, 80, 100]}}
     }},
    {"data": {"values": [{"cut": -1.39}]},
     "mark": {"type": "rule", "color": "#ff5050", "strokeDash": [6, 4], "strokeWidth": 1.5, "opacity": 0.85},
     "encoding": {"x": {"field": "cut", "type": "quantitative", "axis": null}}}
  ],
  "resolve": {"axis": {"x": "independent", "y": "independent"}}
},
{
  "width": 226, "height": 395,
  "data": {"name": "p2"},
  "layer": [
    {"mark": {"type": "circle", "size": 13, "fill": "#00006e", "stroke": "black", "strokeWidth": 0.6, "opacity": 1},
     "encoding": {
       "x": {"field": "logv", "type": "quantitative", "scale": {"domain": [-2, 0], "nice": false, "zero": false}, "axis": {"values": [-2, -1.5, -1, -0.5, 0], "format": ".1f", "title": "log(v̄ₐₛᵧₘ)"}},
       "y": {"field": "res", "type": "quantitative", "scale": {"domain": [-300, 400], "nice": false, "zero": false}, "axis": {"values": [-300, -200, -100, 0, 100, 200, 300, 400], "title": "Residuals from TFR (kms⁻¹)"}}
     }},
    {"mark": {"type": "point", "opacity": 0},
     "encoding": {
       "x": {"field": "logv", "type": "quantitative", "axis": {"orient": "top", "labels": false, "title": null, "values": [-2, -1.5, -1, -0.5, 0]}},
       "y": {"field": "res", "type": "quantitative", "axis": {"orient": "right", "labels": false, "title": null, "values": [-300, -200, -100, 0, 100, 200, 300, 400]}}
     }}
  ],
  "resolve": {"axis": {"x": "independent", "y": "independent"}}
},
{
  "width": 226, "height": 395,
  "data": {"name": "p3"},
  "layer": [
    {"mark": {"type": "circle", "size": 13, "fill": "#00006e", "stroke": "black", "strokeWidth": 0.6, "opacity": 1},
     "encoding": {
       "x": {"field": "pa", "type": "quantitative", "scale": {"domain": [-20, 100], "nice": false, "zero": false}, "axis": {"values": [-20, 0, 20, 40, 60, 80, 100], "title": "PA offset (°)"}},
       "y": {"field": "res", "type": "quantitative", "scale": {"domain": [-300, 400], "nice": false, "zero": false}, "axis": {"values": [-300, -200, -100, 0, 100, 200, 300, 400], "title": "Residuals from TFR (kms⁻¹)"}}
     }},
    {"mark": {"type": "point", "opacity": 0},
     "encoding": {
       "x": {"field": "pa", "type": "quantitative", "axis": {"orient": "top", "labels": false, "title": null, "values": [-20, 0, 20, 40, 60, 80, 100]}},
       "y": {"field": "res", "type": "quantitative", "axis": {"orient": "right", "labels": false, "title": null, "values": [-300, -200, -100, 0, 100, 200, 300, 400]}}
     }},
    {"data": {"values": [{"level": -1}]},
     "mark": {"type": "rule", "color": "#ff0000", "strokeDash": [6, 4], "strokeWidth": 1.5},
     "encoding": {"y": {"field": "level", "type": "quantitative", "axis": null}}}
  ],
  "resolve": {"axis": {"x": "independent", "y": "independent"}}
}
]
}
